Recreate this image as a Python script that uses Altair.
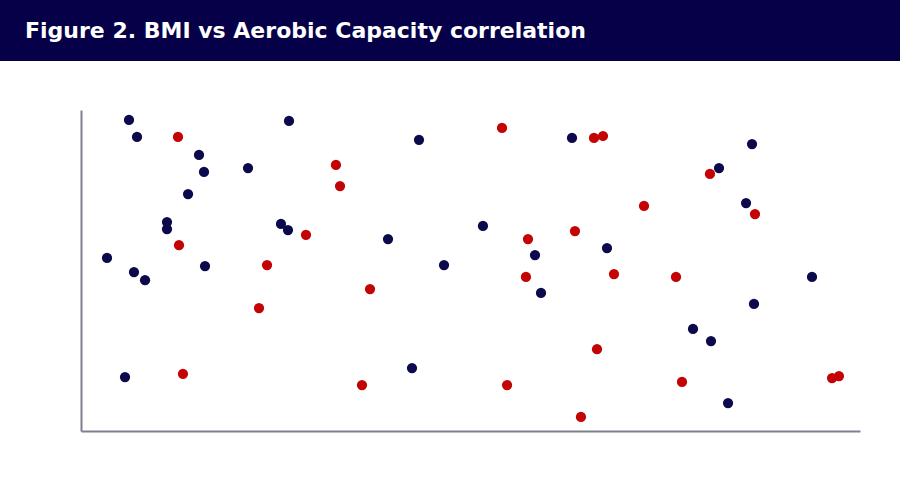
import altair as alt
import pandas as pd

# Group A (navy) points: x = BMI-like scale, y = aerobic capacity-like scale (0-100 units)
navy_x = [6.16, 7.19, 26.7, 15.15, 15.79, 21.44, 13.74, 11.04, 11.04, 25.67, 26.57,
          3.34, 6.80, 8.22, 15.92, 5.65, 43.39, 39.41, 46.60, 51.60, 58.28, 59.05,
          42.49, 63.03, 67.52, 86.14, 81.90, 85.37, 86.39, 93.84, 78.56, 80.87, 83.06]
navy_y = [96.9, 91.6, 96.6, 86.0, 80.7, 81.9, 73.8, 65.1, 62.9, 64.5, 62.6,
          53.9, 49.5, 47.0, 51.4, 16.8, 90.7, 59.8, 51.7, 63.9, 54.8, 43.0,
          19.6, 91.3, 57.0, 89.4, 81.9, 71.0, 39.6, 48.0, 31.8, 28.0, 8.7]

# Group B (red) points
red_x = [12.45, 12.58, 13.09, 23.88, 22.85, 28.88, 32.73, 33.25, 37.10, 36.07,
         54.04, 57.38, 57.12, 54.69, 63.41, 65.85, 67.01, 68.42, 66.24, 64.18,
         72.27, 76.38, 77.15, 80.74, 86.52, 96.41, 97.30]
red_y = [91.6, 57.9, 17.8, 51.7, 38.3, 61.1, 82.9, 76.3, 44.2, 14.3,
         94.4, 59.8, 48.0, 14.3, 62.3, 91.3, 91.9, 48.9, 25.5, 4.4,
         70.1, 48.0, 15.3, 80.1, 67.6, 16.5, 17.1]

groups = ["Group A", "Group B"]
colors = ["#0c0a4c", "#c40404"]
title_text = "Figure 2. BMI vs Aerobic Capacity correlation"

df = pd.DataFrame({
    "x": navy_x + red_x,
    "y": navy_y + red_y,
    "group": [groups[0]] * len(navy_x) + [groups[1]] * len(red_x),
})

points = alt.Chart(df).mark_circle(size=105, opacity=1).encode(
    x=alt.X("x:Q", scale=alt.Scale(domain=[0, 100], nice=False, zero=False),
            axis=alt.Axis(title="", labels=False, ticks=False, grid=False,
                          domainColor="#7f7f8f", domainWidth=2)),
    y=alt.Y("y:Q", scale=alt.Scale(domain=[0, 100], nice=False, zero=False),
            axis=alt.Axis(title="", labels=False, ticks=False, grid=False,
                          domainColor="#7f7f8f", domainWidth=2)),
    color=alt.Color("group:N", scale=alt.Scale(domain=groups, range=colors), legend=None),
)

bar = alt.Chart(pd.DataFrame({"t": [title_text]})).mark_rect(color="#050048").encode(
    x=alt.value(-81), x2=alt.value(819), y=alt.value(-110), y2=alt.value(-49)
)

title = alt.Chart(pd.DataFrame({"t": [title_text]})).mark_text(
    align="left", baseline="alphabetic", font="DejaVu Sans", fontWeight="bold",
    fontSize=22, color="white"
).encode(x=alt.value(-56), y=alt.value(-72), text="t:N")

chart = alt.layer(bar, title, points).properties(
    width=779, height=321,
    background="white",
    autosize=alt.AutoSizeParams(type="none"),
    padding={"left": 81, "top": 110, "right": 40, "bottom": 69},
).configure_view(stroke="transparent", strokeWidth=0)

chart.save("out.html", embed_options={"renderer": "svg", "actions": False})
